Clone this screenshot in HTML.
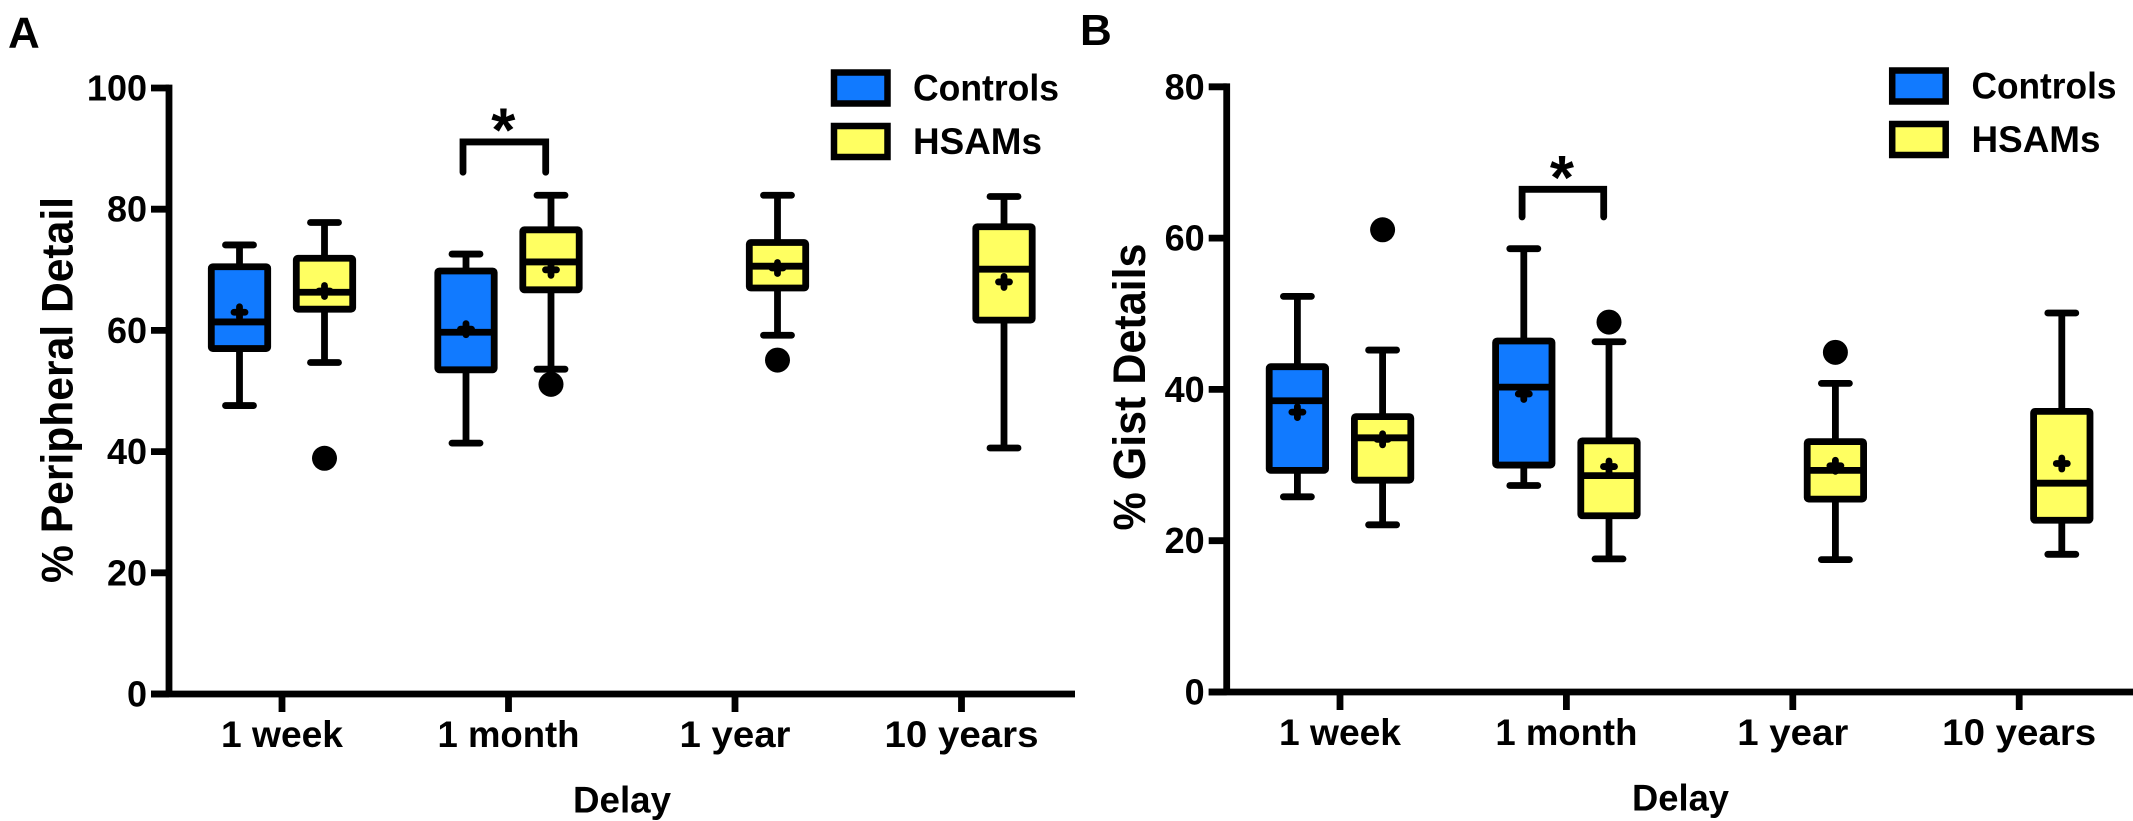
<!DOCTYPE html>
<html lang="en">
<head>
<meta charset="utf-8">
<title>Peripheral and gist details by delay</title>
<style>
html,body{margin:0;padding:0;background:#fff;width:2133px;height:821px;overflow:hidden}
svg{display:block}
text{font-family:"Liberation Sans",Arial,sans-serif;font-weight:700;fill:#000}
</style>
</head>
<body>
<svg id="figure" xmlns="http://www.w3.org/2000/svg" width="2133" height="821" viewBox="0 0 2133 821">
  <rect x="0" y="0" width="2133" height="821" fill="#ffffff"/>

  <g id="panel-a">
    <text x="8" y="47.5" font-size="44">A</text>
    <text transform="translate(72.5 583) rotate(-90)" font-size="44.5" textLength="386" lengthAdjust="spacingAndGlyphs">% Peripheral Detail</text>
    <text x="622" y="812.5" font-size="37" text-anchor="middle" textLength="98" lengthAdjust="spacingAndGlyphs">Delay</text>
    <g>
      <g>
        <rect x="834" y="72.5" width="53.5" height="31" fill="#117aff" stroke="#000" stroke-width="6.5"/>
        <text x="913" y="100.5" font-size="37" textLength="146" lengthAdjust="spacingAndGlyphs">Controls</text>
      </g>
      <g>
        <rect x="834" y="126" width="53.5" height="31" fill="#ffff61" stroke="#000" stroke-width="6.5"/>
        <text x="913" y="154" font-size="37" textLength="129" lengthAdjust="spacingAndGlyphs">HSAMs</text>
      </g>
    </g>
  </g>

  <g id="panel-b">
    <text x="1080" y="45" font-size="44">B</text>
    <text transform="translate(1145 530.5) rotate(-90)" font-size="45" textLength="287" lengthAdjust="spacingAndGlyphs">% Gist Details</text>
    <text x="1680.5" y="810.5" font-size="37" text-anchor="middle" textLength="97" lengthAdjust="spacingAndGlyphs">Delay</text>
    <g>
      <g>
        <rect x="1892.2" y="70.5" width="53.5" height="31" fill="#117aff" stroke="#000" stroke-width="6.5"/>
        <text x="1971.5" y="98.7" font-size="37" textLength="145" lengthAdjust="spacingAndGlyphs">Controls</text>
      </g>
      <g>
        <rect x="1892.2" y="124" width="53.5" height="31" fill="#ffff61" stroke="#000" stroke-width="6.5"/>
        <text x="1971.5" y="152" font-size="37" textLength="129" lengthAdjust="spacingAndGlyphs">HSAMs</text>
      </g>
    </g>
  </g>
</svg>

<script>
// Categories and box identity (shared by both panels)
const delays = ['1 week', '1 month', '1 year', '10 years'];
const groupNames = ['controls', 'hsams'];
const boxDelay = [0, 0, 1, 1, 2, 3];
const boxGroup = [0, 1, 0, 1, 1, 1];

// Panel A: % Peripheral Detail
const ticksA = [0, 20, 40, 60, 80, 100];
const lowA = [47.6, 54.7, 41.4, 53.6, 59.2, 40.6];
const q1A = [57.0, 63.5, 53.5, 66.7, 67.0, 61.7];
const medianA = [61.4, 66.3, 59.7, 71.3, 70.6, 70.1];
const q3A = [70.5, 71.9, 69.8, 76.6, 74.5, 77.1];
const highA = [74.1, 77.8, 72.6, 82.3, 82.3, 82.1];
const meanA = [63.0, 66.5, 60.2, 70.0, 70.3, 68.0];
const outlierA = [null, 38.9, null, 51.1, 55.1, null];
const bracketA = [91.1, 86.1];

// Panel B: % Gist Details
const ticksB = [0, 20, 40, 60, 80];
const lowB = [25.8, 22.1, 27.3, 17.6, 17.5, 18.2];
const q1B = [29.3, 28.0, 30.0, 23.3, 25.5, 22.7];
const medianB = [38.5, 33.6, 40.3, 28.6, 29.3, 27.6];
const q3B = [43.0, 36.4, 46.4, 33.2, 33.1, 37.1];
const highB = [52.3, 45.2, 58.6, 46.3, 40.8, 50.1];
const meanB = [37.0, 33.4, 39.4, 29.8, 29.9, 30.2];
const outlierB = [null, 61.1, null, 48.9, 44.9, null];
const bracketB = [66.45, 62.8];

const SVGNS = 'http://www.w3.org/2000/svg';
const STROKE = 6.8;
const LABEL_FIT = { '1 week': 122, '1 month': 142, '1 year': 111, '10 years': 154 };

function make(tag, parent, name, attrs) {
  const el = document.createElementNS(SVGNS, tag);
  
  
  for (const k in attrs) el.setAttribute(k, attrs[k]);
  parent.appendChild(el);
  return el;
}

function line(parent, name, x1, y1, x2, y2, cap) {
  return make('line', parent, name, {
    x1: x1, y1: y1, x2: x2, y2: y2,
    stroke: '#000', 'stroke-width': STROKE, 'stroke-linecap': cap || 'butt'
  });
}

function drawPanel(p) {
  const root = document.getElementById(p.id);
  const xTick = i => p.xStart + i * p.xStep;
  const yPos = v => p.yZero - v * p.yScale;
  const xBox = b => xTick(boxDelay[b]) + (boxGroup[b] === 0 ? -p.offset : p.offset);

  // Axes
  const axes = make('g', root, 'axes-' + p.key, {});
  const topY = yPos(p.ticks[p.ticks.length - 1]);
  line(axes, 'y-axis-line-' + p.key, p.xAxis, topY - STROKE / 2, p.xAxis, p.yZero);
  line(axes, 'x-axis-line-' + p.key, p.xAxis - 18, p.yZero, p.xEnd, p.yZero);
  p.ticks.forEach(t => {
    const y = yPos(t);
    line(axes, 'y-tick-' + p.key + '-' + t, p.xAxis - 18, y, p.xAxis, y);
    const label = make('text', axes, 'y-tick-label-' + p.key + '-' + t, {
      x: p.xAxis - 22, y: y + 12.5, 'font-size': 36, 'text-anchor': 'end'
    });
    label.textContent = t;
  });
  delays.forEach((d, i) => {
    const slug = d.replace(' ', '-');
    const x = xTick(i);
    line(axes, 'x-tick-' + p.key + '-' + slug, x, p.yZero, x, p.yZero + 18);
    const label = make('text', axes, 'x-tick-label-' + p.key + '-' + slug, {
      x: x, y: p.xLabelY, 'font-size': 37, 'text-anchor': 'middle',
      textLength: LABEL_FIT[d], lengthAdjust: 'spacingAndGlyphs'
    });
    label.textContent = d;
  });

  // Boxes
  boxDelay.forEach((dIdx, b) => {
    const x = xBox(b);
    const group = groupNames[boxGroup[b]];
    const tag = p.key + '-' + group + '-' + delays[dIdx].replace(' ', '-');
    const g = make('g', root, 'box-' + tag, {});
    line(g, 'whisker-' + tag, x, yPos(p.low[b]), x, yPos(p.high[b]));
    line(g, 'cap-low-' + tag, x - 14, yPos(p.low[b]), x + 14, yPos(p.low[b]), 'round');
    line(g, 'cap-high-' + tag, x - 14, yPos(p.high[b]), x + 14, yPos(p.high[b]), 'round');
    make('rect', g, 'iqr-box-' + tag, {
      x: x - 28.2, y: yPos(p.q3[b]),
      width: 56.4, height: yPos(p.q1[b]) - yPos(p.q3[b]),
      rx: 1.5, ry: 1.5,
      fill: boxGroup[b] === 0 ? '#117aff' : '#ffff61',
      stroke: '#000', 'stroke-width': STROKE, 'stroke-linejoin': 'round'
    });
    line(g, 'median-' + tag, x - 28, yPos(p.median[b]), x + 28, yPos(p.median[b]));
    const my = yPos(p.mean[b]);
    line(g, 'mean-h-' + tag, x - 5.5, my, x + 5.5, my, 'round');
    line(g, 'mean-v-' + tag, x, my - 5.5, x, my + 5.5, 'round');
    if (p.outlier[b] !== null) {
      make('circle', g, 'outlier-' + tag, { cx: x, cy: yPos(p.outlier[b]), r: 12.5, fill: '#000' });
    }
  });

  // Significance bracket
  const br = make('g', root, 'significance-bracket-' + p.key, {});
  const bx1 = xTick(1) + p.bracketLeft;
  const bx2 = xTick(1) + p.bracketRight;
  make('path', br, 'bracket-line-' + p.key, {
    d: 'M' + bx1 + ' ' + yPos(p.bracket[1]) + ' V' + yPos(p.bracket[0]) + ' H' + bx2 + ' V' + yPos(p.bracket[1]),
    fill: 'none', stroke: '#000', 'stroke-width': STROKE,
    'stroke-linecap': 'round', 'stroke-linejoin': 'miter'
  });
  const star = make('text', br, 'significance-star-' + p.key, {
    x: (bx1 + bx2) / 2 - 1, y: yPos(p.bracket[0]) + 9.5, 'font-size': 62, 'text-anchor': 'middle'
  });
  star.textContent = '*';
}

drawPanel({
  id: 'panel-a', key: 'a', ticks: ticksA,
  low: lowA, q1: q1A, median: medianA, q3: q3A, high: highA, mean: meanA, outlier: outlierA, bracket: bracketA,
  xAxis: 169, xEnd: 1075, xStart: 282, xStep: 226.5, offset: 42.5,
  yZero: 694, yScale: 6.06, xLabelY: 747, bracketLeft: -45.5, bracketRight: 37.2
});
drawPanel({
  id: 'panel-b', key: 'b', ticks: ticksB,
  low: lowB, q1: q1B, median: medianB, q3: q3B, high: highB, mean: meanB, outlier: outlierB, bracket: bracketB,
  xAxis: 1226.7, xEnd: 2133, xStart: 1340, xStep: 226.4, offset: 42.6,
  yZero: 692, yScale: 7.565, xLabelY: 745, bracketLeft: -44.3, bracketRight: 37.3
});
</script>
</body>
</html>
